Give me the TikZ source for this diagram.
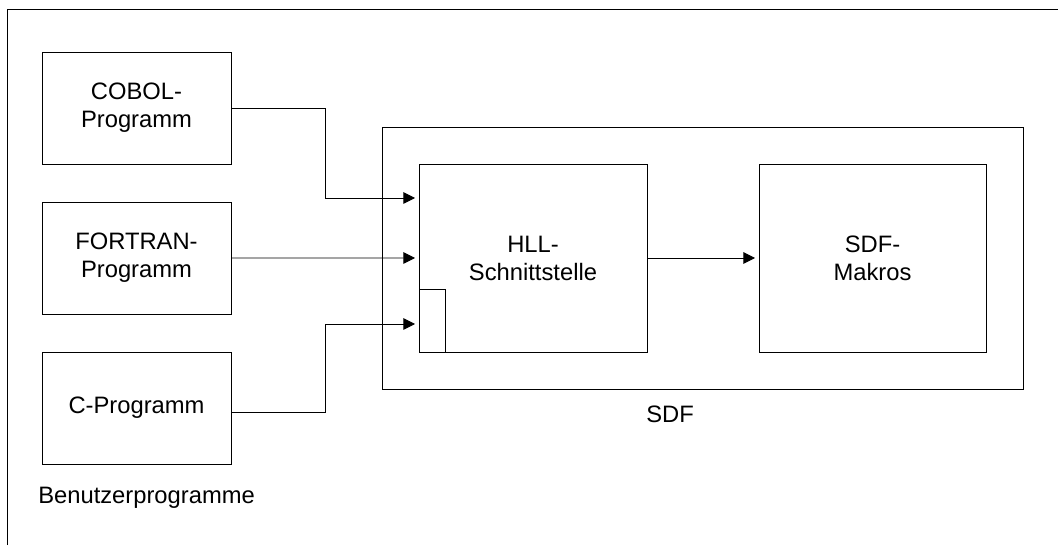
\documentclass[tikz,border=0pt]{standalone}
\usepackage{fontspec}
\setmainfont{Liberation Sans}
\usetikzlibrary{arrows.meta,calc,positioning}
\tikzset{
  progbox/.style={
    draw=black,
    line width=0.7pt,
    minimum width=4.725cm,
    minimum height=2.8cm,
    inner sep=0pt,
    outer sep=0pt,
    align=center,
    font=\fontsize{16.9}{19.9}\selectfont
  },
  sdfbox/.style={progbox, minimum width=5.7cm, minimum height=4.7cm},
  outerbox/.style={draw=black, line width=0.7pt, minimum width=16.025cm, minimum height=6.55cm, inner sep=0pt, outer sep=0pt},
  stubbox/.style={draw=black, line width=0.7pt, minimum width=0.65cm, minimum height=1.575cm, inner sep=0pt, outer sep=0pt},
  link/.style={line width=0.7pt, draw=black, -{Triangle[length=2.9mm,width=2.9mm]}, shorten >=0.1cm},
  frameline/.style={line width=0.7pt, draw=black},
  caption/.style={font=\fontsize{16.9}{19.9}\selectfont, inner sep=0pt}
}

\begin{document}
\begin{tikzpicture}[x=1cm,y=1cm]
\path[use as bounding box] (0,0) rectangle (26.45,13.625);
\fill[white] (0,0) rectangle (26.45,13.625);
\draw[frameline] (0.175,0) -- (0.175,13.4) -- (26.45,13.4);

% SDF side
\node[outerbox] (sdf) at (17.5625,7.175) {};
\node[sdfbox] (hll) at (13.325,7.175) {HLL-\\Schnittstelle};
\node[sdfbox, minimum width=5.675cm, right=2.8cm of hll] (makros) {SDF-\\Makros};
\node[stubbox, anchor=south west] (stub) at (hll.south west) {};
\node[caption, anchor=base] (sdflabel) at (16.75,3.05) {SDF};

% user programs
\node[progbox] (cobol) at (3.4125,10.925) {COBOL-\\Programm};
\node[progbox, below=0.95cm of cobol] (fortran) {FORTRAN-\\Programm};
\node[progbox, below=0.95cm of fortran] (cprog) {C-Programm};
\node[caption, anchor=base west] (users) at (0.95,1.05) {Benutzerprogramme};

\draw[link] (cobol.east) -- ++(2.35,0) |- ($(hll.west)+(0,1.5)$);
\draw[link] (fortran) -- (hll);
\draw[link] ($(cprog.east)+(0,-0.1)$) -- ++(2.35,0) |- ($(hll.west)+(0,-1.65)$);
\draw[link] (hll) -- (makros);

\end{tikzpicture}
\end{document}
